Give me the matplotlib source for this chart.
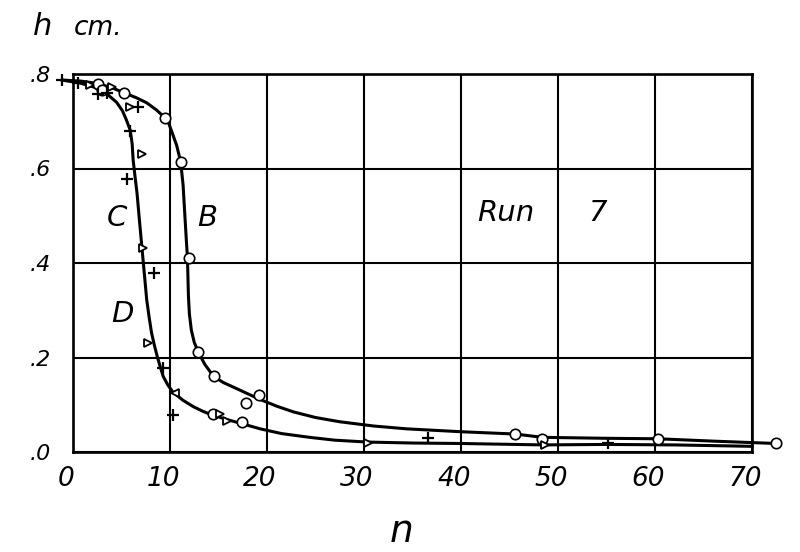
import matplotlib
matplotlib.use("Agg")
import matplotlib.pyplot as plt
import matplotlib.transforms as mtrans

# ---- data ----
curve_b_x = [-1.1, 0.8, 2.5, 4.0, 5.3, 6.5, 7.6, 8.6, 9.5, 9.9, 10.2, 10.7, 11.1, 11.35,
             11.5, 11.65, 11.8, 11.85, 11.9, 12.0, 12.2, 12.5, 12.9, 13.6, 14.5, 15.5,
             17.2, 19.3, 21.0, 22.7, 25.0, 27.5, 31.0, 34.4, 39.9, 45.6, 48.4, 55.0,
             60.3, 66.0, 72.5]
curve_b_y = [0.787, 0.785, 0.780, 0.771, 0.760, 0.750, 0.739, 0.724, 0.707, 0.694, 0.677,
             0.648, 0.614, 0.565, 0.512, 0.460, 0.410, 0.370, 0.330, 0.292, 0.258, 0.232,
             0.212, 0.185, 0.160, 0.147, 0.131, 0.111, 0.097, 0.085, 0.073, 0.064, 0.055,
             0.049, 0.043, 0.038, 0.031, 0.029, 0.028, 0.023, 0.018]

curve_d_x = [-1.1, 0.7, 2.2, 3.6, 4.5, 5.1, 5.5, 5.9, 6.1, 6.2, 6.4, 6.6, 6.85, 7.1,
             7.35, 7.6, 7.85, 8.1, 8.4, 8.7, 9.0, 9.3, 9.8, 10.3, 11.3, 12.4, 13.4,
             14.4, 16.0, 17.4, 19.3, 21.5, 24.4, 27.0, 30.4, 35.0, 40.0, 48.5, 55.0,
             62.0, 70.0]
curve_d_y = [0.787, 0.781, 0.772, 0.756, 0.740, 0.722, 0.703, 0.681, 0.652, 0.618, 0.582,
             0.548, 0.490, 0.434, 0.378, 0.322, 0.285, 0.252, 0.225, 0.201, 0.180, 0.160,
             0.141, 0.127, 0.110, 0.096, 0.086, 0.078, 0.068, 0.060, 0.049, 0.039, 0.031,
             0.025, 0.021, 0.019, 0.018, 0.015, 0.016, 0.015, 0.012]

circle_x = [2.6, 3.0, 5.3, 9.5, 11.1, 12.0, 12.9, 14.5, 17.8, 19.2, 14.4, 17.4, 45.6, 48.4, 60.3, 72.5]
circle_y = [0.779, 0.766, 0.760, 0.707, 0.614, 0.410, 0.212, 0.160, 0.104, 0.121, 0.080, 0.063,
            0.038, 0.028, 0.028, 0.018]

plus_x = [-1.1, 0.5, 2.6, 3.5, 6.7, 5.9, 5.6, 8.3, 9.3, 10.3, 36.6, 55.2]
plus_y = [0.787, 0.781, 0.758, 0.760, 0.730, 0.680, 0.577, 0.379, 0.178, 0.078, 0.029, 0.020]

tri_r_x = [1.8, 4.0, 5.9, 7.1, 7.2, 7.7, 15.2, 15.9, 30.4, 48.7]
tri_r_y = [0.777, 0.773, 0.730, 0.631, 0.432, 0.231, 0.080, 0.065, 0.020, 0.015]

tri_l_x = [10.5]
tri_l_y = [0.125]

x_ticks = [0, 10, 20, 30, 40, 50, 60, 70]
x_tick_labels = ["0", "10", "20", "30", "40", "50", "60", "70"]
y_ticks = [0.0, 0.2, 0.4, 0.6, 0.8]
y_tick_labels = [".0", ".2", ".4", ".6", ".8"]

curve_labels = [("C", 4.5, 0.495), ("B", 13.8, 0.495), ("D", 5.1, 0.292),
                ("Run", 44.6, 0.506), ("7", 54.1, 0.506)]

# ---- figure ----
plt.rcParams['font.family'] = ['DejaVu Sans']
fig = plt.figure(figsize=(8.0, 5.52), dpi=100)
ax = fig.add_axes([73/800, 1 - 452/552, (752 - 73)/800, (452 - 74)/552])
ax.set_xlim(0, 70)
ax.set_ylim(0, 0.8)

ax.set_xticks(x_ticks)
ax.set_xticklabels(x_tick_labels, fontsize=19, fontstyle='oblique')
ax.set_yticks(y_ticks)
ax.set_yticklabels(y_tick_labels, fontsize=16, fontstyle='oblique')
ax.tick_params(axis='both', length=0)
ax.tick_params(axis='x', pad=10)
ax.tick_params(axis='y', pad=16)
offset = mtrans.ScaledTranslation(-5/72, 0, fig.dpi_scale_trans)
for lab in ax.get_xticklabels():
    lab.set_transform(lab.get_transform() + offset)

ax.grid(True, color='black', linewidth=1.5)
ax.set_axisbelow(True)
for s in ax.spines.values():
    s.set_linewidth(1.9)
    s.set_color('black')

ax.plot(curve_b_x, curve_b_y, color='black', linewidth=2.2, clip_on=False, zorder=3,
        solid_joinstyle='round')
ax.plot(curve_d_x, curve_d_y, color='black', linewidth=2.2, clip_on=False, zorder=3,
        solid_joinstyle='round')

ax.plot(circle_x, circle_y, linestyle='none', marker='o', markersize=7.5,
        markerfacecolor='white', markeredgecolor='black', markeredgewidth=1.2,
        clip_on=False, zorder=5)
ax.plot(plus_x, plus_y, linestyle='none', marker='+', markersize=8,
        markeredgecolor='black', markeredgewidth=1.6, clip_on=False, zorder=5)
ax.plot(tri_r_x, tri_r_y, linestyle='none', marker='>', markersize=6,
        markerfacecolor='white', markeredgecolor='black', markeredgewidth=1.3,
        clip_on=False, zorder=5)
ax.plot(tri_l_x, tri_l_y, linestyle='none', marker='<', markersize=6,
        markerfacecolor='white', markeredgecolor='black', markeredgewidth=1.3,
        clip_on=False, zorder=5)

for txt, tx, ty in curve_labels:
    ax.text(tx, ty, txt, fontsize=21, fontstyle='oblique', ha='center', va='center',
            zorder=6)

fig.text(33/800, 1 - 35/552, "h", fontsize=22, fontstyle='oblique', ha='left', va='baseline')
fig.text(74/800, 1 - 35/552, "cm.", fontsize=19, fontstyle='oblique', ha='left', va='baseline')
fig.text(402/800, 1 - 542/552, "n", fontsize=27, fontstyle='oblique', ha='center', va='baseline')

fig.savefig("out.png", dpi=100)
